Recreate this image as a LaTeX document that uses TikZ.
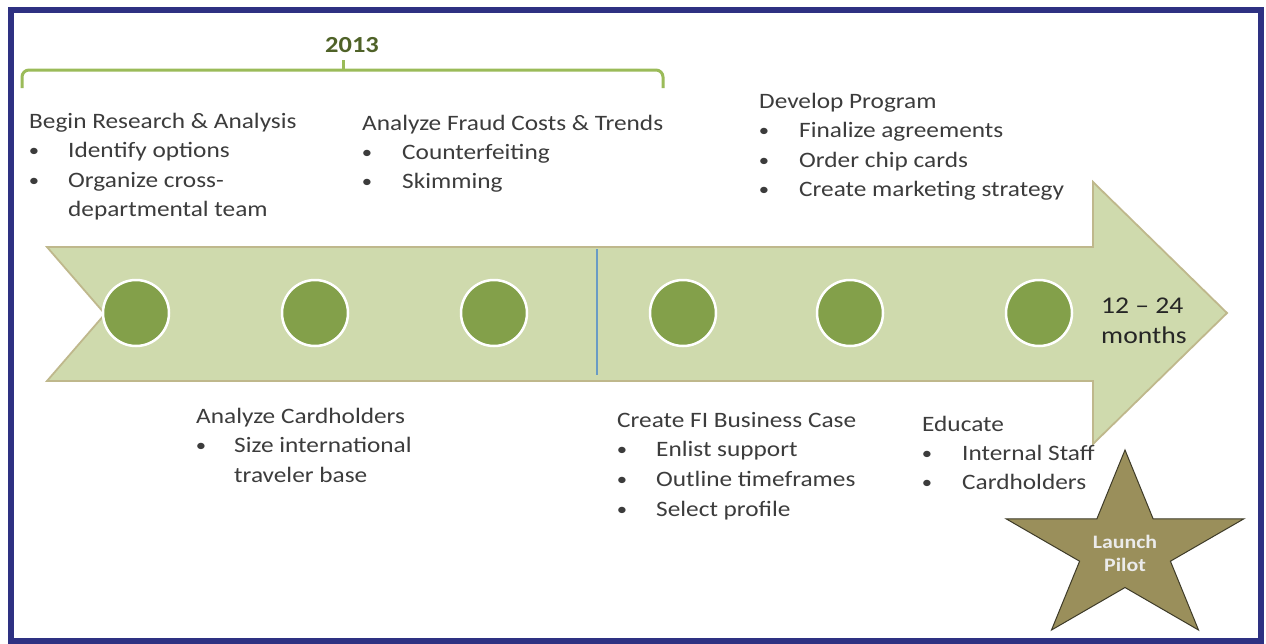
\documentclass[tikz,border=0pt]{standalone}
\usepackage{fontspec}
\setmainfont{Carlito}[FakeStretch=1.15]
\definecolor{frameblue}{HTML}{2E3182}
\definecolor{shaftfill}{HTML}{CFDAAD}
\definecolor{shaftedge}{HTML}{BFB88C}
\definecolor{dotgreen}{HTML}{83A04A}
\definecolor{bracegreen}{HTML}{9BBB59}
\definecolor{yeargreen}{HTML}{4F6228}
\definecolor{divider}{HTML}{6A9BC4}
\definecolor{starfill}{HTML}{9A8F5B}
\definecolor{staredge}{HTML}{3E3B28}
\definecolor{bodytext}{HTML}{3C3C3C}
\begin{document}
\begin{tikzpicture}[x=1pt,y=-1pt,
  txt/.style={anchor=base west,inner sep=0pt,font=\fontsize{22}{26}\selectfont,text=bodytext},
  bul/.style={anchor=base,inner sep=0pt,font=\fontsize{18}{26}\selectfont,text=bodytext},
  milestone/.style={circle,minimum size=66pt,inner sep=0pt,fill=dotgreen,draw=white,line width=2.5pt}]
\useasboundingbox (0,0) rectangle (1266,643);
\fill[white] (0,0) rectangle (1266,643);

% outer frame
\draw[frameblue,line width=6pt] (10.5,10) rectangle (1261,641);

% timeline arrow
\draw[fill=shaftfill,draw=shaftedge,line width=1.8pt,line join=miter]
  (47,247) -- (1093,247) -- (1093,182) -- (1227,313) -- (1093,444)
  -- (1093,381) -- (47,381) -- (105,314) -- cycle;

% year divider
\coordinate (divtop) at (597,249);
\coordinate (divbot) at (597,375);
\draw[divider,line width=1.5pt] (divtop) -- (divbot);

% milestones
\node[milestone] (m1) at (136,313) {};
\node[milestone] (m2) at (315,313) {};
\node[milestone] (m3) at (494,313) {};
\node[milestone] (m4) at (683,313) {};
\node[milestone] (m5) at (850,313) {};
\node[milestone] (m6) at (1039,313) {};

% 2013 bracket
\draw[bracegreen,line width=3pt,rounded corners=7pt]
  (22,88) -- (22,70) -- (663,70) -- (663,88);
\draw[bracegreen,line width=3pt] (343,70) -- (343,60);
\node[anchor=base,inner sep=0pt,font=\fontsize{23}{27}\selectfont\bfseries,text=yeargreen] (year) at (352,52) {2013};

% upper notes
\node[txt] (a0) at (29,128) {Begin Research \& Analysis};
\node[bul] (a1b) at (34,156) {•};
\node[txt] (a1) at (68,157) {Identify options};
\node[bul] (a2b) at (34,186) {•};
\node[txt] (a2) at (68,187) {Organize cross-};
\node[txt] (a3) at (68,216) {departmental team};

\node[txt] (c0) at (362,130) {Analyze Fraud Costs \& Trends};
\node[bul] (c1b) at (367,158) {•};
\node[txt] (c1) at (402,159) {Counterfeiting};
\node[bul] (c2b) at (367,187) {•};
\node[txt] (c2) at (402,188) {Skimming};

\node[txt] (e0) at (759,108) {Develop Program};
\node[bul] (e1b) at (764,136) {•};
\node[txt] (e1) at (799,137) {Finalize agreements};
\node[bul] (e2b) at (764,166) {•};
\node[txt] (e2) at (799,167) {Order chip cards};
\node[bul] (e3b) at (764,195) {•};
\node[txt] (e3) at (799,196) {Create marketing strategy};

% lower notes
\node[txt] (b0) at (196,423) {Analyze Cardholders};
\node[bul] (b1b) at (201,451) {•};
\node[txt] (b1) at (234,452) {Size international};
\node[txt] (b2) at (234,482) {traveler base};

\node[txt] (d0) at (617,427) {Create FI Business Case};
\node[bul] (d1b) at (622,455) {•};
\node[txt] (d1) at (656,456) {Enlist support};
\node[bul] (d2b) at (622,485) {•};
\node[txt] (d2) at (656,486) {Outline timeframes};
\node[bul] (d3b) at (622,515) {•};
\node[txt] (d3) at (656,516) {Select profile};

% launch star
\draw[fill=starfill,draw=staredge,line width=1pt,line join=miter]
  (1125,450) -- (1096.9,518.8) -- (1006.1,518.8) -- (1079.6,561.2)
  -- (1051.5,630) -- (1125,587.5) -- (1198.5,630) -- (1170.4,561.2)
  -- (1243.9,518.8) -- (1153.1,518.8) -- cycle;
\node[align=center,inner sep=0pt,font=\fontsize{19}{23}\selectfont\bfseries,text=white!92!black] (launch) at (1125,553) {Launch\\Pilot};

\node[txt] (f0) at (922,431) {Educate};
\node[bul] (f1b) at (927,459) {•};
\node[txt] (f1) at (962,460) {Internal Staff};
\node[bul] (f2b) at (927,488) {•};
\node[txt] (f2) at (962,489) {Cardholders};

% duration at the arrow head
\node[anchor=base west,inner sep=0pt,font=\fontsize{24}{30}\selectfont,text=black!85] (dur1) at (1101,313) {12 – 24};
\node[anchor=base west,inner sep=0pt,font=\fontsize{24}{30}\selectfont,text=black!85] (dur2) at (1101,343) {months};
\end{tikzpicture}
\end{document}
